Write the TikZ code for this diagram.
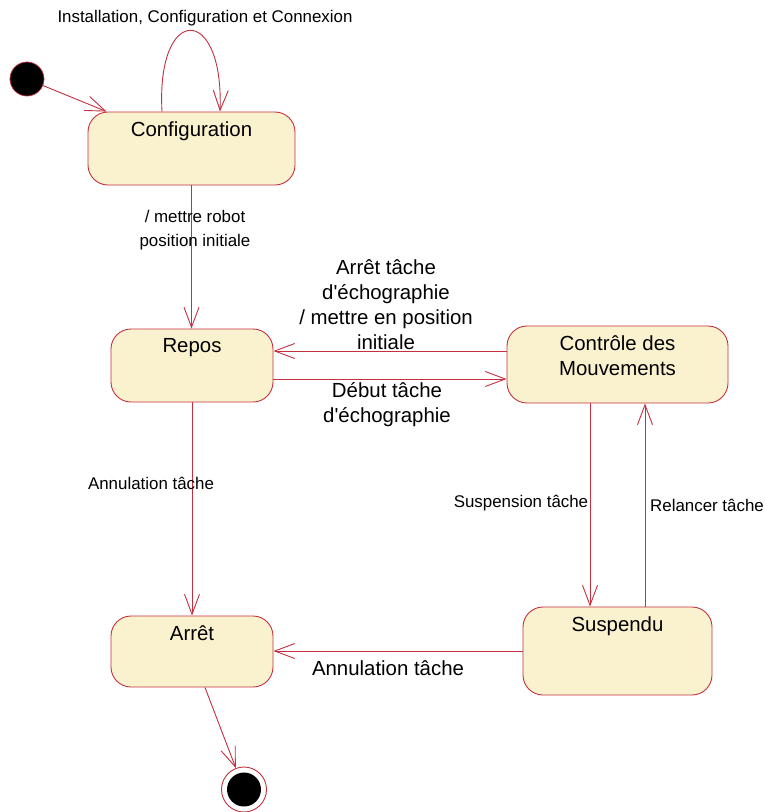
\documentclass[tikz,border=0pt]{standalone}
\usepackage{fontspec}
\setmainfont{Liberation Sans}
\usetikzlibrary{arrows.meta,calc}
\definecolor{umlred}{RGB}{196,48,64}
\definecolor{umlfill}{RGB}{250,242,206}
\newcommand\fsbig{\fontsize{20.4}{25}\selectfont}
\newcommand\fssmall{\fontsize{16.9}{24}\selectfont}
\begin{document}
\begin{tikzpicture}[x=1pt,y=-1pt,
  state/.style={draw=umlred, fill=umlfill, line width=0.9pt, rounded corners=20pt, inner sep=0pt},
  stlbl/.style={anchor=north, inner sep=0pt, yshift=-10pt, font=\fsbig, align=center},
  arr/.style={draw=umlred, line width=0.9pt, -{Straight Barb[length=20pt,width=15pt]}},
  lblb/.style={font=\fsbig, align=center, inner sep=0pt},
  lbls/.style={font=\fssmall, align=center, inner sep=0pt}]
\useasboundingbox (0,0) rectangle (765,812);

% states
\node[state, minimum width=207pt, minimum height=73pt, label={[stlbl]north:Configuration}] (conf) at (191.5,148.5) {};
\node[state, minimum width=162pt, minimum height=73pt, label={[stlbl]north:Repos}] (repos) at (192,365.5) {};
\node[state, minimum width=221pt, minimum height=77pt, label={[stlbl]north:Contrôle des\\Mouvements}] (ctrl) at (617.5,364.5) {};
\node[state, minimum width=162pt, minimum height=71pt, label={[stlbl]north:Arrêt}] (arret) at (192,651.5) {};
\node[state, minimum width=189pt, minimum height=88pt, label={[stlbl]north:Suspendu}] (susp) at (617.5,651) {};

% pseudo states
\node[circle, fill=black, draw=umlred, line width=0.7pt, minimum size=34pt, inner sep=0pt] (init) at (27,79) {};
\node[circle, fill=white, draw=umlred, line width=0.9pt, minimum size=45pt, inner sep=0pt] (fin) at (244,789.5) {};
\fill[black] (fin.center) circle[radius=17pt];

% transitions
\coordinate (cin) at ([xshift=19pt]conf.north west);
\draw[arr] (init) -- (cin);

\coordinate (lp1) at ([xshift=-29.5pt]conf.north);
\coordinate (lp2) at ([xshift=28.5pt]conf.north);
\draw[arr] (lp1) .. controls ([xshift=-6pt,yshift=108pt]lp1) and ([xshift=4pt,yshift=108pt]lp2) .. (lp2);

\draw[arr] (conf.south) -- (conf.south |- repos.north);

\coordinate (h1) at ([yshift=13.5pt]ctrl.west);
\draw[arr] (h1) -- (h1 -| repos.east);
\coordinate (h2) at ([yshift=-14.5pt]ctrl.west);
\draw[arr] (h2 -| repos.east) -- (h2);

\draw[arr] (repos.south) -- (repos.south |- arret.north);

\coordinate (v1) at ([xshift=-27.5pt]ctrl.south);
\draw[arr] (v1) -- (v1 |- susp.north);
\coordinate (v2) at ([xshift=27.5pt]susp.north);
\draw[arr] (v2) -- (v2 |- ctrl.south);

\draw[arr] (susp.west) -- (susp.west -| arret.east);

\coordinate (af) at ([xshift=13pt]arret.south);
\draw[arr] (af) -- (fin);

% labels
\node[lbls] (lloop) at (205,18) {Installation, Configuration et Connexion};
\node[lbls] (linit) at (195,230.5) {/ mettre robot\\position initiale};
\node[lblb] (lstop) at (386,304.5) {Arrêt tâche\\d\textquotesingle échographie\\/ mettre en position\\initiale};
\node[lblb] (lstart) at (387,405) {Début tâche\\d\textquotesingle échographie};
\node[lbls] (lcancela) at (151,483) {Annulation tâche};
\node[lbls] (lsusp) at (521,503) {Suspension tâche};
\node[lbls] (lresume) at (707,505) {Relancer tâche};
\node[lblb] (lcancelb) at (388,668) {Annulation tâche};
\end{tikzpicture}
\end{document}
